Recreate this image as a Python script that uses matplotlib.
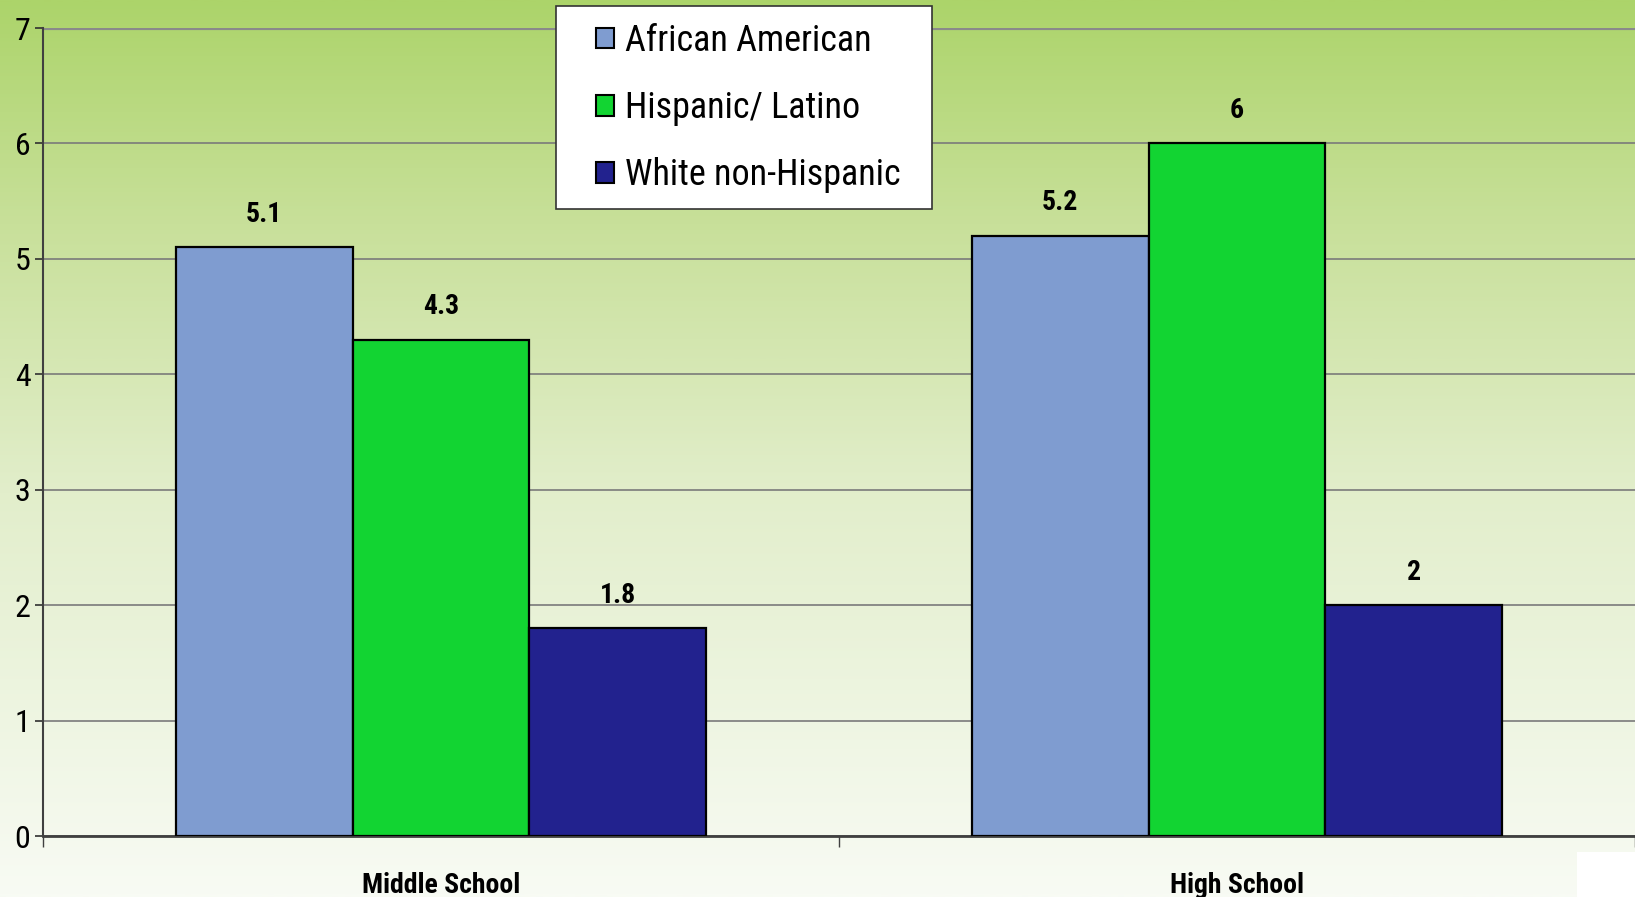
import numpy as np
import matplotlib
matplotlib.use("Agg")
import matplotlib.pyplot as plt
from matplotlib.patches import Patch, Rectangle
from matplotlib.colors import LinearSegmentedColormap

# Data
categories = ["Middle School", "High School"]
series_names = ["African American", "Hispanic/ Latino", "White non-Hispanic"]
african_american = [5.1, 5.2]
hispanic_latino = [4.3, 6.0]
white_non_hispanic = [1.8, 2.0]
value_labels = [["5.1", "5.2"], ["4.3", "6"], ["1.8", "2"]]
y_ticks = [0, 1, 2, 3, 4, 5, 6, 7]

colors = ["#7f9cd0", "#12d432", "#22228e"]

plt.rcParams["font.family"] = ["Roboto Condensed", "Liberation Sans Narrow",
                               "Liberation Sans", "DejaVu Sans"]

W, H = 1635, 897
fig = plt.figure(figsize=(W / 100, H / 100), dpi=100)

# Vertical gradient background
bg = fig.add_axes([0, 0, 1, 1], zorder=-10)
grad = np.linspace(0, 1, 512).reshape(-1, 1)
cmap = LinearSegmentedColormap.from_list(
    "bg", [(0.0, "#f8fbf4"), (0.45, "#e2eecb"), (0.75, "#c8e09a"), (1.0, "#acd46a")])
bg.imshow(grad, aspect="auto", cmap=cmap, origin="lower", extent=[0, 1, 0, 1])
bg.add_patch(Rectangle((1577 / W, 0), 1 - 1577 / W, (H - 852) / H,
                       transform=bg.transAxes, facecolor="white", edgecolor="none"))
bg.set_axis_off()

left = 43 / W
bottom = (H - 836) / H
top = (H - 28) / H
ax = fig.add_axes([left, bottom, 1.0 - left, top - bottom])
ax.patch.set_alpha(0)

series = [african_american, hispanic_latino, white_non_hispanic]
bar_w = 0.222
x = np.arange(len(categories)) + 0.5
for i, (vals, col) in enumerate(zip(series, colors)):
    xs = x + (i - 1) * bar_w
    bars = ax.bar(xs, vals, width=bar_w, color=col, edgecolor="black",
                  linewidth=1.6, zorder=3)
    for b, lab in zip(bars, value_labels[i]):
        ax.annotate(lab, (b.get_x() + b.get_width() / 2, b.get_height()),
                    xytext=(0, 14), textcoords="offset points",
                    ha="center", va="bottom", fontsize=20, fontweight="bold")

ax.set_xlim(0, 2)
ax.set_ylim(0, 7)
ax.set_yticks(y_ticks)
ax.set_yticklabels([str(t) for t in y_ticks], fontsize=23)
ax.tick_params(axis="y", length=6, width=1.2, color="#303030", pad=3)
ax.set_xticks([0, 1, 2])
ax.set_xticklabels(["", "", ""])
ax.tick_params(axis="x", which="major", length=8, width=1.0, color="#404040")
ax.set_xticks(x, minor=True)
ax.set_xticklabels(categories, minor=True, fontsize=20, fontweight="bold")
ax.tick_params(axis="x", which="minor", length=0, pad=26)

ax.grid(axis="y", color="#7a7a7a", linewidth=1.2, zorder=0)
ax.set_axisbelow(True)
for s in ["top", "right"]:
    ax.spines[s].set_visible(False)
ax.axhline(7, color="#8a8a8a", linewidth=3, zorder=1)
ax.spines["left"].set_color("#404040")
ax.spines["left"].set_linewidth(1.5)
ax.spines["bottom"].set_color("#404040")
ax.spines["bottom"].set_linewidth(2)

# Legend: white box drawn separately, entries placed inside it
box = Rectangle((556 / W, 1 - 209 / H), (932 - 556) / W, (209 - 6) / H,
                transform=fig.transFigure, facecolor="white",
                edgecolor="#333333", linewidth=1.2, zorder=5)
fig.patches.append(box)
handles = [Patch(facecolor=c, edgecolor="black", linewidth=1.5) for c in colors]
leg = fig.legend(handles, series_names, loc="upper left",
                 bbox_to_anchor=(596 / W, 1 - 23 / H), fontsize=26,
                 handlelength=0.5, handleheight=0.5, handletextpad=0.3,
                 labelspacing=0.86, borderpad=0, borderaxespad=0,
                 frameon=False)
leg.set_zorder(6)

fig.savefig("out.png", dpi=100)
